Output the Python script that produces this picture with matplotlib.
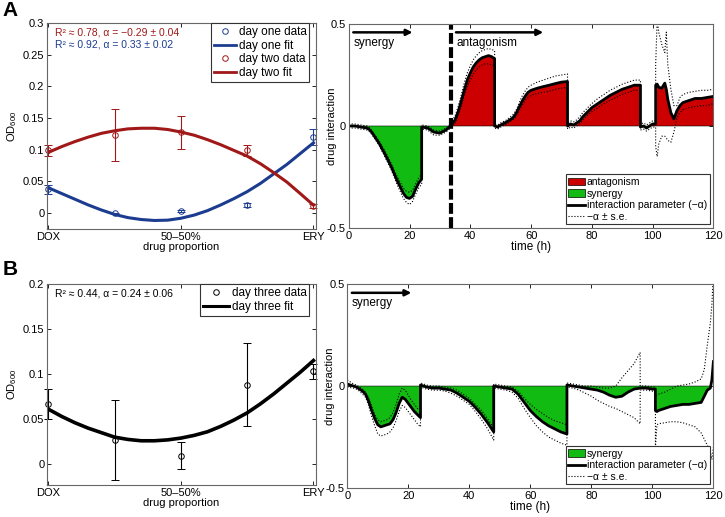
import matplotlib.pyplot as plt
from matplotlib.lines import Line2D
from matplotlib.patches import Patch

plt.rcParams['font.family'] = ['Liberation Sans', 'DejaVu Sans']
plt.rcParams['font.size'] = 8
plt.rcParams['mathtext.fontset'] = 'custom'
plt.rcParams['mathtext.rm'] = 'Liberation Sans'

# ---- left panels: OD600 vs drug proportion ----
prop = [0.0, 0.25, 0.5, 0.75, 1.0]
day1_od = [0.0375, 0.0, 0.0037, 0.0132, 0.120]
day1_err = [0.007, 0.001, 0.002, 0.003, 0.013]
day2_od = [0.099, 0.123, 0.128, 0.099, 0.0116]
day2_err = [0.009, 0.041, 0.026, 0.009, 0.003]
day3_od = [0.067, 0.027, 0.0093, 0.088, 0.103]
day3_err = [0.0167, 0.044, 0.015, 0.046, 0.0085]

fit_x = [0.0, 0.05, 0.1, 0.15, 0.2, 0.25, 0.3, 0.35, 0.4, 0.45, 0.5,
         0.55, 0.6, 0.65, 0.7, 0.75, 0.8, 0.85, 0.9, 0.95, 1.0]
day1_fit = [0.040, 0.031, 0.022, 0.013, 0.005, -0.002, -0.007, -0.010, -0.0115, -0.011, -0.008,
            -0.003, 0.004, 0.013, 0.023, 0.034, 0.047, 0.062, 0.077, 0.094, 0.111]
day2_fit = [0.096, 0.105, 0.113, 0.120, 0.126, 0.130, 0.133, 0.134, 0.134, 0.132, 0.128,
            0.123, 0.116, 0.108, 0.099, 0.090, 0.078, 0.064, 0.049, 0.031, 0.0127]
day3_fit = [0.061, 0.053, 0.046, 0.040, 0.035, 0.030, 0.0275, 0.026, 0.026, 0.027, 0.029,
            0.032, 0.036, 0.042, 0.049, 0.057, 0.067, 0.078, 0.090, 0.102, 0.115]

prop_ticks = [0.0, 0.5, 1.0]
prop_labels = ['DOX', '50\u201350%', 'ERY']

# ---- right panel A: interaction over time ----
tA = [0, 2, 4, 6, 7, 8, 10, 12, 14, 16, 18, 19, 20, 21, 22, 23, 24,
      24, 26, 28, 30, 32, 33.5, 34, 35, 36, 37, 38, 39, 40, 41, 42, 43, 44, 45, 46, 47, 48,
      48, 49, 50, 52, 54, 55, 56, 57, 58, 59, 60, 62, 64, 66, 68, 70, 72,
      72, 73, 74, 75, 76, 77, 78, 80, 82, 84, 86, 88, 90, 92, 94, 96,
      96, 97, 98, 99, 100, 101,
      101, 101.5, 102, 103, 104, 104.5, 105, 106, 107, 108, 109, 110, 112, 114, 116, 118, 120]
alphaA = [0.0, 0.0, -0.005, -0.01, -0.02, -0.04, -0.085, -0.14, -0.2, -0.27, -0.33, -0.35, -0.355, -0.345, -0.31, -0.28, -0.26,
          -0.005, -0.01, -0.03, -0.035, -0.02, 0.0, 0.01, 0.03, 0.07, 0.12, 0.175, 0.225, 0.26, 0.29, 0.31, 0.325, 0.335, 0.34, 0.345, 0.34, 0.33,
          0.0, -0.005, 0.005, 0.02, 0.04, 0.06, 0.09, 0.12, 0.145, 0.165, 0.175, 0.185, 0.193, 0.2, 0.208, 0.215, 0.218,
          0.0, 0.01, 0.005, 0.015, 0.025, 0.045, 0.06, 0.09, 0.11, 0.13, 0.15, 0.165, 0.18, 0.19, 0.2, 0.2,
          -0.005, 0.0, -0.01, 0.0, 0.01, 0.01,
          0.2, 0.205, 0.19, 0.185, 0.21, 0.18, 0.13, 0.065, 0.035, 0.075, 0.1, 0.115, 0.125, 0.135, 0.135, 0.14, 0.145]
upA = [0.01, 0.01, 0.005, 0.0, -0.01, -0.03, -0.075, -0.125, -0.185, -0.25, -0.305, -0.32, -0.325, -0.315, -0.285, -0.255, -0.235,
       0.005, 0.0, -0.02, -0.025, -0.01, 0.01, 0.025, 0.05, 0.095, 0.15, 0.21, 0.26, 0.295, 0.325, 0.345, 0.36, 0.37, 0.375, 0.38, 0.375, 0.37,
       0.01, 0.005, 0.015, 0.03, 0.055, 0.075, 0.11, 0.145, 0.17, 0.19, 0.2, 0.215, 0.225, 0.235, 0.245, 0.25, 0.255,
       0.015, 0.025, 0.02, 0.03, 0.045, 0.065, 0.08, 0.11, 0.135, 0.155, 0.175, 0.19, 0.205, 0.215, 0.225, 0.225,
       0.01, 0.015, 0.005, 0.015, 0.025, 0.025,
       0.3, 0.52, 0.46, 0.4, 0.36, 0.46, 0.3, 0.18, 0.1, 0.1, 0.14, 0.155, 0.165, 0.17, 0.175, 0.175, 0.18]
loA = [-0.01, -0.01, -0.015, -0.02, -0.03, -0.05, -0.095, -0.155, -0.215, -0.29, -0.355, -0.375, -0.385, -0.37, -0.335, -0.305, -0.285,
       -0.015, -0.02, -0.045, -0.045, -0.03, -0.01, 0.0, 0.015, 0.05, 0.1, 0.15, 0.195, 0.225, 0.255, 0.275, 0.29, 0.3, 0.305, 0.305, 0.3, 0.295,
       -0.01, -0.015, -0.005, 0.01, 0.03, 0.045, 0.075, 0.1, 0.125, 0.14, 0.15, 0.16, 0.165, 0.17, 0.18, 0.185, 0.19,
       -0.015, -0.005, -0.01, 0.0, 0.01, 0.03, 0.045, 0.07, 0.09, 0.11, 0.125, 0.14, 0.155, 0.165, 0.175, 0.175,
       -0.02, -0.015, -0.025, -0.015, -0.005, -0.005,
       -0.1, -0.15, -0.09, -0.05, -0.05, -0.06, -0.07, -0.08, -0.03, 0.04, 0.065, 0.08, 0.09, 0.095, 0.1, 0.1, 0.11]

# ---- right panel B ----
tB = [0, 2, 3, 4, 5, 6, 7, 8, 9, 10, 11, 12, 13, 14, 15, 16, 17, 18, 19, 20, 21, 22, 23, 24,
      24, 26, 28, 30, 32, 34, 36, 38, 40, 42, 44, 46, 48,
      48, 50, 52, 54, 56, 58, 60, 62, 64, 66, 68, 70, 72,
      72, 74, 76, 78, 80, 82, 84, 86, 88, 90, 92, 94, 96,
      96, 98, 100, 101,
      101, 101.5, 102, 104, 106, 108, 110, 112, 114, 116, 117, 118, 119, 119.5, 120]
alphaB = [0.01, 0.0, -0.005, -0.015, -0.025, -0.04, -0.075, -0.12, -0.16, -0.19, -0.2, -0.195, -0.19, -0.185, -0.165, -0.13, -0.085, -0.055, -0.065, -0.085, -0.105, -0.125, -0.14, -0.155,
          0.005, -0.005, -0.01, -0.01, -0.015, -0.02, -0.035, -0.055, -0.075, -0.105, -0.14, -0.18, -0.225,
          0.0, -0.005, -0.01, -0.015, -0.04, -0.08, -0.12, -0.15, -0.175, -0.195, -0.21, -0.225, -0.235,
          0.005, 0.0, -0.005, -0.01, -0.015, -0.02, -0.03, -0.045, -0.055, -0.05, -0.03, -0.015, -0.01,
          -0.01, -0.01, -0.015, -0.015,
          -0.12, -0.125, -0.12, -0.11, -0.1, -0.095, -0.09, -0.09, -0.085, -0.08, -0.05, -0.02, -0.01, 0.03, 0.12]
upB = [0.03, 0.01, 0.005, -0.005, -0.015, -0.03, -0.06, -0.1, -0.14, -0.165, -0.175, -0.17, -0.165, -0.155, -0.13, -0.09, -0.04, -0.01, -0.02, -0.045, -0.07, -0.09, -0.11, -0.12,
       0.015, 0.005, 0.0, 0.0, -0.005, -0.01, -0.02, -0.04, -0.06, -0.09, -0.12, -0.16, -0.205,
       0.01, 0.005, 0.0, -0.005, -0.025, -0.06, -0.09, -0.115, -0.135, -0.155, -0.17, -0.18, -0.19,
       0.015, 0.01, 0.005, 0.0, 0.0, -0.005, -0.01, -0.01, 0.0, 0.04, 0.075, 0.11, 0.165,
       0.0, 0.0, -0.005, -0.005,
       -0.05, -0.045, -0.04, -0.03, -0.015, 0.0, 0.005, 0.01, 0.02, 0.035, 0.08, 0.2, 0.31, 0.4, 0.55]
loB = [-0.005, -0.01, -0.015, -0.025, -0.04, -0.055, -0.095, -0.15, -0.195, -0.235, -0.245, -0.24, -0.235, -0.225, -0.205, -0.17, -0.125, -0.095, -0.105, -0.125, -0.145, -0.165, -0.185, -0.2,
       -0.005, -0.015, -0.02, -0.02, -0.025, -0.035, -0.05, -0.07, -0.09, -0.125, -0.165, -0.21, -0.265,
       -0.01, -0.015, -0.02, -0.03, -0.06, -0.11, -0.155, -0.195, -0.225, -0.25, -0.265, -0.28, -0.29,
       -0.005, -0.01, -0.02, -0.035, -0.05, -0.07, -0.085, -0.1, -0.11, -0.125, -0.14, -0.155, -0.185,
       -0.02, -0.02, -0.025, -0.025,
       -0.3, -0.19, -0.185, -0.18, -0.175, -0.175, -0.18, -0.19, -0.2, -0.23, -0.26, -0.29, -0.32, -0.36, -0.3]

time_ticks = [0, 20, 40, 60, 80, 100, 120]
switch_time = 33.5

BLUE = '#1c3c90'
RED = '#a01818'
FILL_RED = '#cc0000'
FILL_GREEN = '#11bb11'
FRAME = '#666666'


def style_axes(ax):
    ax.tick_params(direction='in', top=True, right=True, length=3, width=0.6,
                   labelsize=8, pad=2)
    for sp in ax.spines.values():
        sp.set_color(FRAME)
        sp.set_linewidth(0.8)


def legend_box(ax, handles, labels, **kw):
    leg = ax.legend(handles, labels, fancybox=False, framealpha=1, borderpad=0.25,
                    labelspacing=0.15, **kw)
    leg.get_frame().set_edgecolor('#333333')
    leg.get_frame().set_linewidth(0.8)
    return leg


def prop_axes(ax, ymax, yticks):
    ax.set_xlim(-0.005, 1.01)
    ax.set_ylim(-0.025 if ymax > 0.25 else -0.023, ymax)
    ax.set_xticks(prop_ticks)
    ax.set_xticklabels(prop_labels)
    ax.set_yticks(yticks)
    ax.set_yticklabels([f'{v:g}' for v in yticks])
    ax.set_xlabel('drug proportion', fontsize=8, labelpad=0)
    ax.set_ylabel(r'OD$_{600}$', fontsize=8, labelpad=3)
    style_axes(ax)


def time_axes(ax):
    ax.set_xlim(0, 120)
    ax.set_ylim(-0.5, 0.5)
    ax.set_xticks(time_ticks)
    ax.set_yticks([-0.5, 0, 0.5])
    ax.set_yticklabels(['-0.5', '0', '0.5'])
    ax.set_xlabel('time (h)', fontsize=8.5, labelpad=0)
    ax.set_ylabel('drug interaction', fontsize=8)
    ax.yaxis.set_label_coords(-0.033, 0.5)
    style_axes(ax)


def interaction(ax, t, a, up, lo, red=True):
    if red:
        ax.fill_between(t, 0, a, where=[v > 0 for v in a], interpolate=True,
                        facecolor=FILL_RED, edgecolor='k', linewidth=0.4)
    ax.fill_between(t, 0, a, where=[v < 0 for v in a], interpolate=True,
                    facecolor=FILL_GREEN, edgecolor='k', linewidth=0.4)
    ax.plot(t, up, color='k', ls=':', lw=0.8)
    ax.plot(t, lo, color='k', ls=':', lw=0.8)
    ax.plot(t, a, color='k', lw=2)


def arrow_label(ax, x0, x1, y, text):
    ax.annotate('', xy=(x1, y), xytext=(x0, y),
                arrowprops=dict(arrowstyle='-|>', color='k', lw=1.8, mutation_scale=9,
                                shrinkA=0, shrinkB=0))
    ax.text(x0, y - 0.05, text, fontsize=8.5, va='center', ha='left')


fig = plt.figure(figsize=(7.25, 5.17), dpi=100)
axA1 = fig.add_axes([0.065, 0.557, 0.371, 0.3985])
axA2 = fig.add_axes([0.481, 0.559, 0.503, 0.3946])
axB1 = fig.add_axes([0.065, 0.062, 0.371, 0.3888])
axB2 = fig.add_axes([0.479, 0.056, 0.505, 0.3946])

# panel A left
axA1.plot(fit_x, day1_fit, color=BLUE, lw=2.2)
axA1.plot(fit_x, day2_fit, color=RED, lw=2.2)
axA1.errorbar(prop, day1_od, yerr=day1_err, fmt='o', ms=4, mfc='none', mec=BLUE,
              ecolor=BLUE, elinewidth=0.8, capsize=3, mew=0.7, clip_on=False)
axA1.errorbar(prop, day2_od, yerr=day2_err, fmt='o', ms=4, mfc='none', mec=RED,
              ecolor=RED, elinewidth=0.8, capsize=3, mew=0.7, clip_on=False)
prop_axes(axA1, 0.3, [0, 0.05, 0.1, 0.15, 0.2, 0.25, 0.3])
axA1.text(0.023, 0.2846, 'R\u00b2 \u2248 0.78, \u03b1 = \u22120.29 \u00b1 0.04', color=RED,
          fontsize=7.5, va='center')
axA1.text(0.023, 0.2656, 'R\u00b2 \u2248 0.92, \u03b1 = 0.33 \u00b1 0.02', color=BLUE,
          fontsize=7.5, va='center')
legend_box(axA1,
           [Line2D([], [], ls='none', marker='o', ms=4, mfc='none', mec=BLUE, mew=0.7),
            Line2D([], [], color=BLUE, lw=2),
            Line2D([], [], ls='none', marker='o', ms=4, mfc='none', mec=RED, mew=0.7),
            Line2D([], [], color=RED, lw=2)],
           ['day one data', 'day one fit', 'day two data', 'day two fit'],
           loc='upper right', bbox_to_anchor=(0.975, 1.0), borderaxespad=0, fontsize=8.5,
           handlelength=1.9, handletextpad=0.2)

# panel A right
interaction(axA2, tA, alphaA, upA, loA, red=True)
axA2.axvline(switch_time, color='k', lw=3, dashes=(2.6, 0.8))
time_axes(axA2)
arrow_label(axA2, 1.5, 21, 0.459, 'synergy')
arrow_label(axA2, 35.3, 64, 0.459, 'antagonism')
legend_box(axA2,
           [Patch(facecolor=FILL_RED, edgecolor='k', lw=0.5),
            Patch(facecolor=FILL_GREEN, edgecolor='k', lw=0.5),
            Line2D([], [], color='k', lw=2),
            Line2D([], [], color='k', ls=':', lw=0.8)],
           ['antagonism', 'synergy', 'interaction parameter (\u2212\u03b1)', '\u2212\u03b1 \u00b1 s.e.'],
           loc='lower right', borderaxespad=0.35, fontsize=7.5,
           handlelength=1.6, handletextpad=0.2)

# panel B left
axB1.plot(fit_x, day3_fit, color='k', lw=2.6)
axB1.errorbar(prop, day3_od, yerr=day3_err, fmt='o', ms=4, mfc='none', mec='k',
              ecolor='k', elinewidth=0.8, capsize=3, mew=0.7, clip_on=False)
prop_axes(axB1, 0.2, [0, 0.05, 0.1, 0.15, 0.2])
axB1.text(0.023, 0.189, 'R\u00b2 \u2248 0.44, \u03b1 = 0.24 \u00b1 0.06', color='k',
          fontsize=7.5, va='center')
legend_box(axB1,
           [Line2D([], [], ls='none', marker='o', ms=4, mfc='none', mec='k', mew=0.7),
            Line2D([], [], color='k', lw=2.2)],
           ['day three data', 'day three fit'],
           loc='upper right', bbox_to_anchor=(0.975, 1.0), borderaxespad=0, fontsize=8.5,
           handlelength=2.2, handletextpad=0.2)

# panel B right
interaction(axB2, tB, alphaB, upB, loB, red=False)
time_axes(axB2)
arrow_label(axB2, 1.5, 21, 0.457, 'synergy')
legend_box(axB2,
           [Patch(facecolor=FILL_GREEN, edgecolor='k', lw=0.5),
            Line2D([], [], color='k', lw=2),
            Line2D([], [], color='k', ls=':', lw=0.8)],
           ['synergy', 'interaction parameter (\u2212\u03b1)', '\u2212\u03b1 \u00b1 s.e.'],
           loc='lower right', borderaxespad=0.35, fontsize=7.5,
           handlelength=1.6, handletextpad=0.2)

fig.text(0.004, 0.979, 'A', fontsize=15, weight='bold', va='center')
fig.text(0.004, 0.478, 'B', fontsize=15, weight='bold', va='center')

fig.savefig('out.png', dpi=100)
